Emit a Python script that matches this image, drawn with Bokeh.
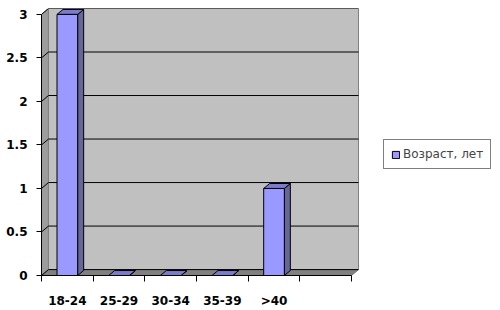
from bokeh.plotting import figure
from bokeh.models import (Range1d, FixedTicker, NumeralTickFormatter, Legend, LegendItem)
from bokeh.embed import file_html
from bokeh.resources import INLINE

categories = ["18-24", "25-29", "30-34", "35-39", ">40", ""]
values = [3, 0, 0, 0, 1, None]
series_name = "Возраст, лет"
y_ticks = [0, 0.5, 1, 1.5, 2, 2.5, 3]

n = len(categories)
ymax = 3
# depth offsets (data units) for 3D look
wdx, wdy = 0.135, 0.068
bdx, bdy = 0.116, 0.057
bw = 0.4

W, H = 500, 310
left, top, bottom = 41, 8, 33
wall_px = 317  # pixel width of the walled plot area
frame_w = W - left
x_end = (n + wdx) * frame_w / wall_px

p = figure(width=W, height=H, output_backend="svg", toolbar_location=None,
           x_range=Range1d(0, x_end), y_range=Range1d(0, ymax + wdy),
           min_border_left=left, min_border_right=0, min_border_top=top, min_border_bottom=bottom)
p.outline_line_color = None
p.xgrid.visible = False
p.ygrid.visible = False
p.background_fill_color = "white"

# walls
p.patch([0, 0, wdx, wdx], [0, ymax, ymax + wdy, wdy], fill_color="#9c9c9c", line_color="#808080", line_width=1)
p.patch([0, n, n + wdx, wdx], [0, 0, wdy, wdy], fill_color="#808080", line_color="#707070", line_width=1)
p.quad(left=wdx, right=n + wdx, bottom=wdy, top=ymax + wdy, fill_color="#c0c0c0", line_color="#808080", line_width=1)

# gridlines
gx, gy = [], []
for v in y_ticks:
    gx.append([0, wdx, n + wdx])
    gy.append([v, v + wdy, v + wdy])
p.multi_line(gx, gy, line_color="black", line_width=1)

# bars
fx0, fx1, ftop = [], [], []
sxs, sys_, txs, tys = [], [], [], []
for i, v in enumerate(values):
    if v is None:
        continue
    x0 = i + 0.5 - bw / 2
    x1 = i + 0.5 + bw / 2
    fx0.append(x0); fx1.append(x1); ftop.append(v)
    sxs.append([x1, x1 + bdx, x1 + bdx, x1]); sys_.append([0, bdy, v + bdy, v])
    txs.append([x0, x1, x1 + bdx, x0 + bdx]); tys.append([v, v, v + bdy, v + bdy])
p.patches(sxs, sys_, fill_color="#666699", line_color="black", line_width=1)
p.patches(txs, tys, fill_color="#7b7bcc", line_color="black", line_width=1)
front = p.quad(left=fx0, right=fx1, bottom=0, top=ftop, fill_color="#9999ff", line_color="black", line_width=1)

# axes
ya = p.yaxis[0]
ya.ticker = FixedTicker(ticks=y_ticks)
ya.formatter = NumeralTickFormatter(format="0.[0]")
ya.bounds = (0, ymax)
ya.axis_line_color = "black"
ya.major_tick_line_color = "black"
ya.major_tick_out = 5
ya.major_tick_in = 0
ya.minor_tick_line_color = None
ya.major_label_standoff = 9
ya.major_label_text_font = "DejaVu Sans"
ya.major_label_text_font_style = "bold"
ya.major_label_text_font_size = "12px"
ya.major_label_text_color = "black"

xa = p.xaxis[0]
centers = [i + 0.5 for i in range(n)]
xa.ticker = FixedTicker(ticks=centers, minor_ticks=list(range(n + 1)))
xa.major_label_overrides = {c: lab for c, lab in zip(centers, categories)}
xa.bounds = (0, n)
xa.axis_line_color = "black"
xa.major_tick_out = 0
xa.major_tick_in = 0
xa.minor_tick_out = 6
xa.minor_tick_in = 0
xa.minor_tick_line_color = "black"
xa.major_label_standoff = 12
xa.major_label_text_font = "DejaVu Sans"
xa.major_label_text_font_style = "bold"
xa.major_label_text_font_size = "12px"
xa.major_label_text_color = "black"

legend = Legend(items=[LegendItem(label=series_name, renderers=[front])],
                location=(342, 106), border_line_color="black", border_line_width=1,
                background_fill_color="white", background_fill_alpha=1,
                padding=7, margin=0, glyph_width=9, glyph_height=9, label_standoff=3,
                label_text_font="DejaVu Sans", label_text_font_size="12px",
                label_height=12)
p.add_layout(legend)

open("out.html", "w").write(file_html(p, INLINE))
